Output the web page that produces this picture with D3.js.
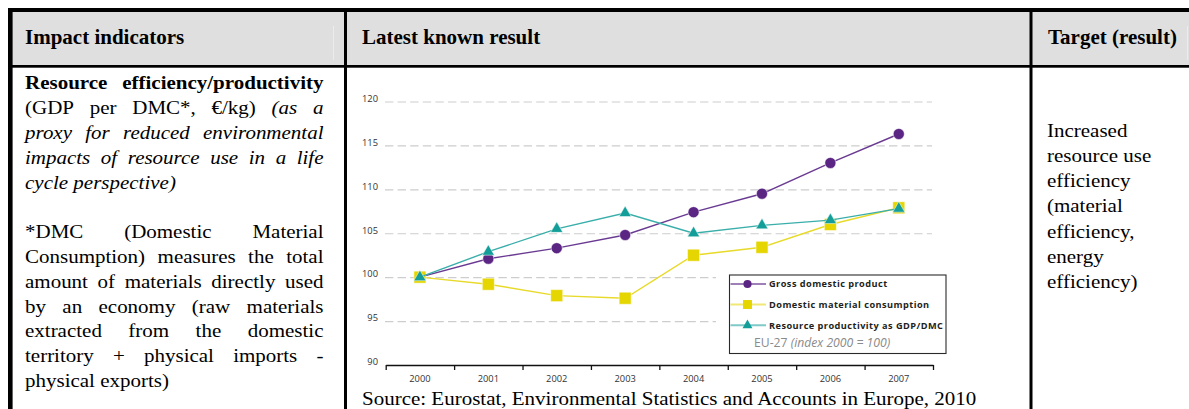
<!DOCTYPE html>
<html>
<head>
<meta charset="utf-8">
<script src="https://cdn.jsdelivr.net/npm/d3@7"></script>
<style>
  body { margin: 0; background: #fff; }
  svg { display: block; }
</style>
</head>
<body>
<script>
// ---- Chart data (EU-27, index 2000 = 100) ----
const years = [2000, 2001, 2002, 2003, 2004, 2005, 2006, 2007];
const gdp = [100, 102.1, 103.3, 104.8, 107.4, 109.5, 113.0, 116.3];
const dmc = [100, 99.2, 97.9, 97.6, 102.5, 103.4, 106.0, 107.9];
const productivity = [100, 102.9, 105.5, 107.3, 105.0, 105.9, 106.5, 107.8];
const yTicks = [90, 95, 100, 105, 110, 115, 120];
const seriesNames = ["Gross domestic product", "Domestic material consumption", "Resource productivity as GDP/DMC"];

// ---- Table text ----
const headers = ["Impact indicators", "Latest known result", "Target (result)"];
const indicatorLines = [
  { segs: [["Resource efficiency/productivity", "b"]], justify: true },
  { segs: [["(GDP per DMC*, €/kg)", ""], ["(as a", "i"]], justify: true },
  { segs: [["proxy for reduced environmental", "i"]], justify: true },
  { segs: [["impacts of resource use in a life", "i"]], justify: true },
  { segs: [["cycle perspective)", "i"]], justify: false },
  null,
  { segs: [["*DMC (Domestic Material", ""]], justify: true },
  { segs: [["Consumption) measures the total", ""]], justify: true },
  { segs: [["amount of materials directly used", ""]], justify: true },
  { segs: [["by an economy (raw materials", ""]], justify: true },
  { segs: [["extracted from the domestic", ""]], justify: true },
  { segs: [["territory + physical imports -", ""]], justify: true },
  { segs: [["physical exports)", ""]], justify: false }
];
const targetLines = ["Increased", "resource use", "efficiency", "(material", "efficiency,", "energy", "efficiency)"];
const sourceText = "Source: Eurostat, Environmental Statistics and Accounts in Europe, 2010";
const legendNote = ["EU-27 ", "(index 2000 = 100)"];

const W = 1189, H = 409;
const serif = "'Liberation Serif', 'Times New Roman', serif";
const sans = "'Open Sans', 'Lato', sans-serif";
const textSize = 21;      // serif body size
const squash = 0.88;      // body type is set slightly condensed vertically

const svg = d3.select("body").append("svg").attr("width", W).attr("height", H);
svg.append("rect").attr("width", W).attr("height", H).attr("fill", "#fff");

// places a serif text run with its baseline at (x, y)
function serifText(parent, x, y) {
  return parent.append("g").attr("transform", `translate(${x},${y}) scale(1,${squash})`)
    .append("text").attr("x", 0).attr("y", 0)
    .attr("font-family", serif).attr("font-size", textSize).attr("fill", "#000");
}

// ---- Table frame ----
const table = svg.append("g");
table.append("rect").attr("x", 8).attr("y", 10).attr("width", W - 8).attr("height", 56).attr("fill", "#dfdfdf");
// faint inner cell edges in the header
table.append("line").attr("x1", 333.5).attr("x2", 333.5).attr("y1", 26).attr("y2", 60).attr("stroke", "#ececec").attr("stroke-width", 1);
table.append("line").attr("x1", 1187.5).attr("x2", 1187.5).attr("y1", 26).attr("y2", 60).attr("stroke", "#ececec").attr("stroke-width", 1);
// borders
table.append("rect").attr("x", 8).attr("y", 8).attr("width", W - 8).attr("height", 4).attr("fill", "#000");
table.append("rect").attr("x", 8).attr("y", 65).attr("width", W - 8).attr("height", 2.7).attr("fill", "#000");
table.append("rect").attr("x", 8).attr("y", 8).attr("width", 4.6).attr("height", H - 8).attr("fill", "#000");
table.append("rect").attr("x", 344).attr("y", 8).attr("width", 3).attr("height", H - 8).attr("fill", "#000");
table.append("rect").attr("x", 1029.5).attr("y", 8).attr("width", 3).attr("height", H - 8).attr("fill", "#000");

// header labels
const headerX = [25, 362, 1048];
table.selectAll("text.hdr").data(headers).join("text")
  .attr("class", "hdr")
  .attr("x", (d, i) => headerX[i]).attr("y", 43.5)
  .attr("font-family", serif).attr("font-size", 21).attr("font-weight", "bold")
  .attr("fill", "#000").text(d => d);

// indicator description, justified line by line
const body = table.append("g");
const colX0 = 25, colX1 = 323.5, firstBase = 89.3, lineH = 24.8;

// width of one word space, measured once and then discarded
const probe = serifText(body, 0, 0).text("a a");
const probeA = serifText(body, 0, 0).text("aa");
const spaceW = probe.node().getComputedTextLength() - probeA.node().getComputedTextLength();
d3.select(probe.node().parentNode).remove();
d3.select(probeA.node().parentNode).remove();

indicatorLines.forEach((line, li) => {
  if (!line) return;
  const yBase = firstBase + li * lineH;
  const words = [];
  line.segs.forEach(([txt, st]) => txt.split(" ").forEach(w => words.push({ t: w, st })));
  const nodes = words.map(w => serifText(body, 0, yBase)
    .attr("font-weight", w.st === "b" ? "bold" : "normal")
    .attr("font-style", w.st === "i" ? "italic" : "normal")
    .text(w.t));
  const widths = nodes.map(n => n.node().getComputedTextLength());
  const total = d3.sum(widths);
  const gap = line.justify && words.length > 1 ? (colX1 - colX0 - total) / (words.length - 1) : spaceW;
  let cx = colX0;
  nodes.forEach((n, i) => {
    d3.select(n.node().parentNode).attr("transform", `translate(${cx},${yBase}) scale(1,${squash})`);
    cx += widths[i] + gap;
  });
});

// target column
targetLines.forEach((t, i) => serifText(table, 1047, 136.7 + i * 25.2).text(t));

// source line
serifText(svg, 362, 405).text(sourceText);

// ---- Line chart ----
const x = d3.scaleBand().domain(years).range([385.7, 933]);
const y = d3.scaleLinear().domain([90, 120]).range([365, 101.5]);
const cxOf = yr => x(yr) + x.bandwidth() / 2;
const chart = svg.append("g");

// horizontal dashed gridlines with value labels
const yAxis = chart.append("g").attr("transform", "translate(385,0)")
  .call(d3.axisLeft(y).tickValues(yTicks).tickSizeInner(-547).tickSizeOuter(0).tickPadding(7));
yAxis.select(".domain").remove();
yAxis.selectAll(".tick line")
  .attr("stroke", "#cdcdcd").attr("stroke-width", 1.2).attr("stroke-dasharray", "8.4,4.2")
  .filter(d => d === 90).remove();
yAxis.selectAll(".tick text")
  .attr("dy", "-0.02em").attr("font-family", sans).attr("font-size", 9.3).attr("fill", "#333");

// bottom axis: tick marks at year boundaries
const edges = d3.scaleLinear().domain([0, years.length]).range(x.range());
const xEdges = chart.append("g").attr("transform", "translate(0,365)")
  .call(d3.axisBottom(edges).ticks(years.length).tickSizeInner(5).tickSizeOuter(0).tickFormat(""));
xEdges.select(".domain").attr("stroke", "#111").attr("stroke-width", 1.6);
xEdges.selectAll(".tick line").attr("stroke", "#111").attr("stroke-width", 1.3);

// year labels centred in each band
const xLabels = chart.append("g").attr("transform", "translate(0,365)")
  .call(d3.axisBottom(x).tickSize(0).tickPadding(10.5));
xLabels.select(".domain").remove();
xLabels.selectAll(".tick text").attr("font-family", sans).attr("font-size", 9.3).attr("fill", "#333");

const series = [
  { name: seriesNames[0], values: gdp, color: "#5b2583", lineColor: "#6a3a92", symbol: d3.symbolCircle, size: 96, legendSize: 52 },
  { name: seriesNames[1], values: dmc, color: "#e5d500", lineColor: "#e8da2a", symbol: d3.symbolSquare, size: 144, legendSize: 80 },
  { name: seriesNames[2], values: productivity, color: "#139e99", lineColor: "#3aaeaa", symbol: d3.symbolTriangle, size: 64, legendSize: 42 }
];

const line = d3.line().x((d, i) => cxOf(years[i])).y(d => y(d));
series.forEach(s => {
  const g = chart.append("g");
  g.append("path").datum(s.values).attr("d", line)
    .attr("fill", "none").attr("stroke", s.lineColor).attr("stroke-width", 1.4);
  g.selectAll("path.mark").data(s.values).join("path").attr("class", "mark")
    .attr("transform", (d, i) => `translate(${cxOf(years[i])},${y(d)})`)
    .attr("d", d3.symbol().type(s.symbol).size(s.size))
    .attr("fill", s.color).attr("stroke", "#fff").attr("stroke-width", 0.5);
});

// ---- Legend ----
const lg = chart.append("g");
lg.append("rect").attr("x", 716).attr("y", 274).attr("width", 230).attr("height", 80).attr("fill", "#fff");
lg.append("rect").attr("x", 729.5).attr("y", 275).attr("width", 216.5).attr("height", 78.5)
  .attr("fill", "#fff").attr("stroke", "#2a2a2a").attr("stroke-width", 1.1);
const rowY = [284, 304.5, 325.3];
series.forEach((s, i) => {
  lg.append("line").attr("x1", 730.5).attr("x2", 766).attr("y1", rowY[i]).attr("y2", rowY[i])
    .attr("stroke", s.lineColor).attr("stroke-opacity", 0.65).attr("stroke-width", 2);
  lg.append("path").attr("transform", `translate(747.5,${rowY[i]})`)
    .attr("d", d3.symbol().type(s.symbol).size(s.legendSize)).attr("fill", s.color);
  lg.append("text").attr("x", 769).attr("y", rowY[i] + 3.2)
    .attr("font-family", sans).attr("font-size", 9.2).attr("letter-spacing", 0.45)
    .attr("font-weight", "bold").attr("fill", "#231f20")
    .text(s.name);
});
const note = lg.append("text").attr("x", 754).attr("y", 347)
  .attr("font-family", sans).attr("font-size", 12.2).attr("fill", "#8a8a8a");
note.append("tspan").text(legendNote[0]);
note.append("tspan").attr("font-style", "italic").text(legendNote[1]);
</script>
</body>
</html>
